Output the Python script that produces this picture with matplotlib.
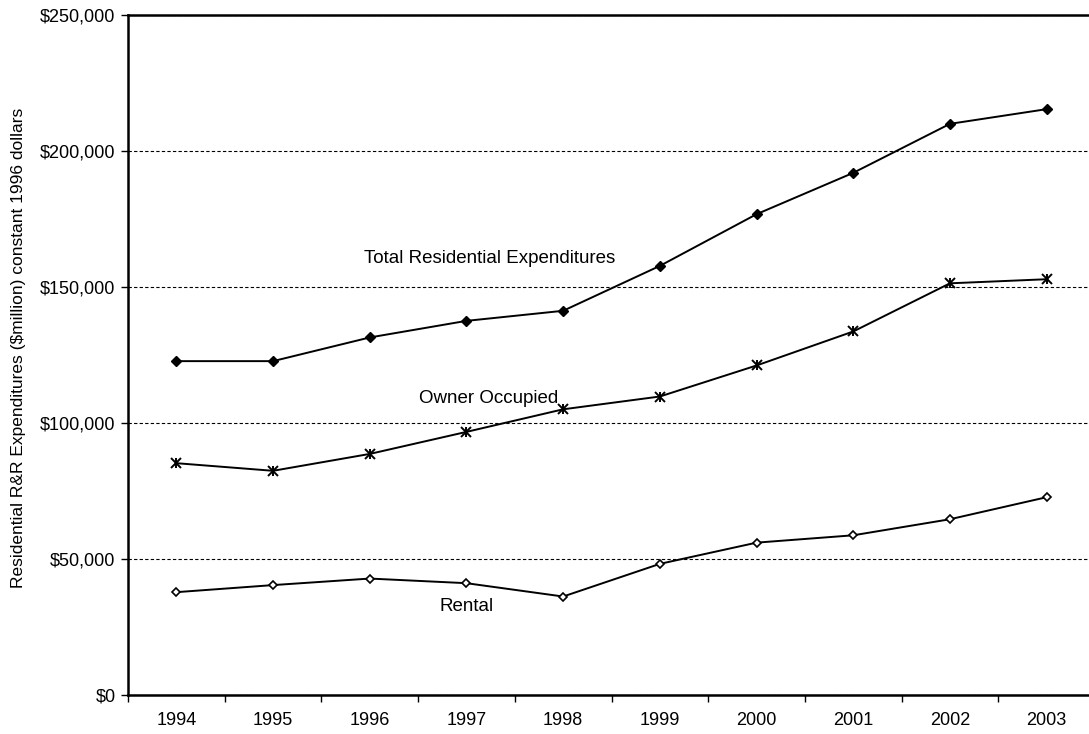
import matplotlib.pyplot as plt
import numpy as np

plt.rcParams['font.family'] = ['Liberation Sans', 'DejaVu Sans']

years = ['1994', '1995', '1996', '1997', '1998', '1999', '2000', '2001', '2002', '2003']
total = [122800, 122800, 131500, 137600, 141300, 157800, 176800, 192000, 210000, 215400]
owner = [85300, 82500, 88700, 96800, 105100, 109800, 121200, 133700, 151400, 152900]
rental = [37900, 40500, 42900, 41200, 36300, 48300, 56100, 58800, 64700, 72800]
y_ticks = [0, 50000, 100000, 150000, 200000, 250000]

fig = plt.figure(figsize=(10.89, 7.34), dpi=100)
# right edge of the plot area runs just past the image edge, like the original
ax = fig.add_axes([128 / 1089, 1 - 695.3 / 734, 967 / 1089, 680.3 / 734])

x = np.arange(len(years))

# Total: filled diamonds
ax.plot(x, total, color='black', lw=1.4, marker='D', ms=5, mfc='black', mec='black', zorder=3)
# Owner occupied: asterisk (x plus vertical bar)
ax.plot(x, owner, color='black', lw=1.4, marker='x', ms=7, mew=1.4, zorder=3)
ax.plot(x, owner, ls='none', marker='|', ms=7, mew=1.4, color='black', zorder=3)
# Rental: hollow diamonds
ax.plot(x, rental, color='black', lw=1.4, marker='D', ms=4.5, mfc='white', mec='black', mew=1.2, zorder=3)

ax.text(3.24, 160700, 'Total Residential Expenditures', ha='center', va='center', fontsize=13.5)
ax.text(3.23, 109200, 'Owner Occupied', ha='center', va='center', fontsize=13.5)
ax.text(3.0, 32800, 'Rental', ha='center', va='center', fontsize=13.5)

ax.set_xlim(-0.5, len(years) - 0.5)
ax.set_ylim(0, 250000)

ax.set_yticks(y_ticks)
ax.set_yticklabels(['${:,}'.format(v) for v in y_ticks])
ax.yaxis.grid(True, linestyle=(0, (3, 2)), color='black', lw=0.8)
ax.set_axisbelow(True)

# ticks between categories, labels in the middle
ax.set_xticks(np.arange(len(years) + 1) - 0.5)
ax.set_xticklabels([])
ax.set_xticks(x, minor=True)
ax.set_xticklabels(years, minor=True)
ax.tick_params(axis='x', which='minor', length=0, pad=12, labelsize=13)
ax.tick_params(axis='x', which='major', length=5, width=1, direction='out')
ax.tick_params(axis='y', length=5, width=1, direction='out', labelsize=13, pad=4)

for side in ['left', 'bottom', 'top']:
    ax.spines[side].set_linewidth(1.8)
ax.spines['right'].set_visible(False)

ax.set_ylabel('Residential R&R Expenditures ($million) constant 1996 dollars', fontsize=12.5)
ax.yaxis.set_label_coords(-102 / 967, 0.51)

fig.savefig('out.png', dpi=100)
